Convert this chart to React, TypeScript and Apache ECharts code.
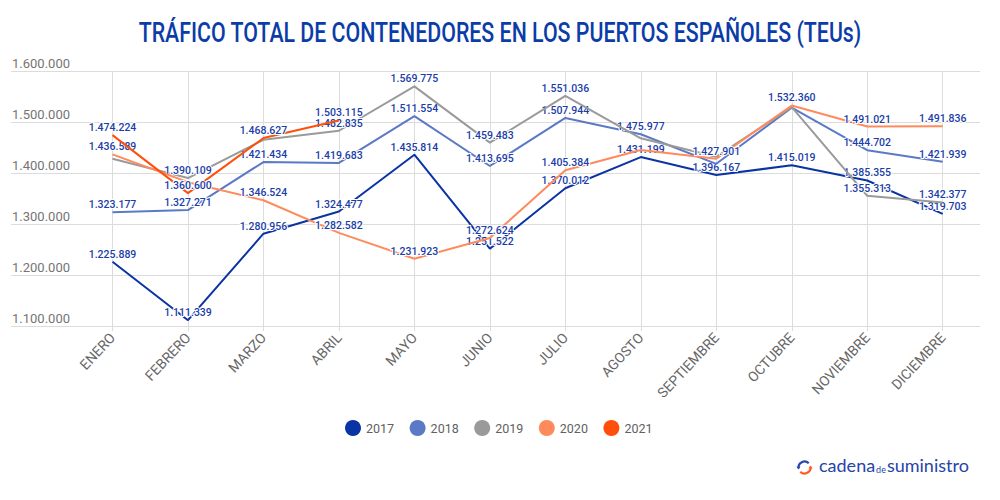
import React, { useEffect, useRef } from "react";
import * as echarts from "echarts";

const months = ["ENERO", "FEBRERO", "MARZO", "ABRIL", "MAYO", "JUNIO", "JULIO", "AGOSTO", "SEPTIEMBRE", "OCTUBRE", "NOVIEMBRE", "DICIEMBRE"];
const years = ["2017", "2018", "2019", "2020", "2021"];
const v2017 = [1225889, 1111339, 1280956, 1324477, 1435814, 1251522, 1370012, 1431199, 1396167, 1415019, 1385355, 1319703];
const v2018 = [1323177, 1327271, 1421434, 1419683, 1511554, 1413695, 1507944, 1475977, 1418000, 1528000, 1444702, 1421939];
const v2019 = [1428000, 1390109, 1465000, 1482835, 1569775, 1459483, 1551036, 1468000, 1432000, 1529000, 1355313, 1342377];
const v2020 = [1436589, 1382000, 1346524, 1282582, 1231923, 1272624, 1405384, 1445000, 1427901, 1532360, 1491021, 1491836];
const v2021 = [1474224, 1360600, 1468627, 1503115];
// indexes of points whose label is not shown (hidden due to overlap in the original)
const hidden2017: number[] = [];
const hidden2018 = [8, 9];
const hidden2019 = [0, 2, 7, 8, 9];
const hidden2020 = [1, 7];
const hidden2021: number[] = [];
const yTicks = [1100000, 1200000, 1300000, 1400000, 1500000, 1600000];

const colors = ["#0a34a3", "#5b79c6", "#9a9a9a", "#ff8a5c", "#ff4f0a"];

function fmt(n: number): string {
  return String(Math.round(n)).replace(/\B(?=(\d{3})+(?!\d))/g, ".");
}

export default function App() {
  const ref = useRef<HTMLDivElement>(null);
  useEffect(() => {
    if (!ref.current) return;
    const chart = echarts.init(ref.current, undefined, { renderer: "svg" });
    const all = [v2017, v2018, v2019, v2020, v2021];
    const hid = [hidden2017, hidden2018, hidden2019, hidden2020, hidden2021];
    const series = all.map((vals, i) => ({
      name: years[i],
      type: "line",
      xAxisIndex: 1,
      yAxisIndex: 1,
      symbol: "circle",
      symbolSize: 0,
      showSymbol: true,
      lineStyle: { width: 2, color: colors[i] },
      itemStyle: { color: colors[i] },
      data: vals.map((v, j) => (hid[i].includes(j) ? { value: v, label: { show: false } } : v)),
      label: {
        show: true,
        position: "top",
        distance: 2,
        color: "#1a3ea8",
        fontFamily: "Roboto",
        fontSize: 10.5,
        fontWeight: 500,
        textBorderColor: "#fff",
        textBorderWidth: 2,
        formatter: (p: any) => fmt(p.value),
      },
      z: 2 + i,
    }));
    chart.setOption({
      animation: false,
      backgroundColor: "#fff",
      color: colors,
      legend: {
        data: years,
        left: 340,
        top: 415,
        icon: "circle",
        itemWidth: 16,
        itemHeight: 16,
        itemGap: 15.5,
        textStyle: { fontFamily: "Roboto", fontSize: 12.5, color: "#616161" },
      },
      grid: [
        { left: 11, right: 20, top: 71, bottom: 174 },
        { left: 112.5, right: 57.3, top: 71, bottom: 174 },
      ],
      xAxis: [
        { type: "value", gridIndex: 0, show: false, min: 0, max: 1 },
        {
          type: "category",
          gridIndex: 1,
          data: months,
          boundaryGap: false,
          axisLine: { show: false },
          axisTick: { show: true, length: 5, lineStyle: { color: "#dcdcdc" } },
          splitLine: { show: true, lineStyle: { color: "#dcdcdc", width: 1 } },
          axisLabel: { rotate: 47, margin: 9, color: "#666", fontFamily: "Roboto", fontSize: 14, interval: 0 },
        },
      ],
      yAxis: [
        {
          type: "value",
          gridIndex: 0,
          min: yTicks[0],
          max: yTicks[yTicks.length - 1],
          interval: 100000,
          axisLine: { show: false },
          axisTick: { show: false },
          splitLine: { lineStyle: { color: "#dcdcdc", width: 1 } },
          axisLabel: {
            inside: true,
            margin: 1,
            verticalAlign: "bottom",
            padding: [0, 0, 1, 0],
            color: "#757575",
            fontFamily: "Roboto",
            fontSize: 13,
            formatter: (v: number) => fmt(v),
          },
        },
        {
          type: "value",
          gridIndex: 1,
          min: yTicks[0],
          max: yTicks[yTicks.length - 1],
          interval: 100000,
          show: false,
          splitLine: { show: false },
        },
      ],
      graphic: [
        {
          type: "text",
          x: 500,
          y: 33,
          scaleX: 0.79,
          style: {
            text: "TRÁFICO TOTAL DE CONTENEDORES EN LOS PUERTOS ESPAÑOLES (TEUs)",
            fontFamily: "Roboto",
            fontSize: 27,
            fontWeight: 500,
            fill: "#0b3ca8",
            textAlign: "center",
            textVerticalAlign: "middle",
          },
        },
        {
          type: "group",
          left: 796,
          top: 459,
          children: [
            { type: "arc", shape: { cx: 7, cy: 8, r: 6, startAngle: Math.PI * 0.95, endAngle: Math.PI * 1.75 }, style: { stroke: "#2a47b0", lineWidth: 2.2, fill: "none" } },
            { type: "arc", shape: { cx: 7, cy: 8, r: 6, startAngle: Math.PI * -0.05, endAngle: Math.PI * 0.75 }, style: { stroke: "#ff5a1f", lineWidth: 2.2, fill: "none" } },
            { type: "polygon", shape: { points: [[-1, 7], [3, 7], [1, 10]] }, style: { fill: "#2a47b0" } },
            { type: "polygon", shape: { points: [[11, 9], [15, 9], [13, 6]] }, style: { fill: "#ff5a1f" } },
          ],
        },
        {
          type: "text",
          left: 819,
          top: 456,
          style: {
            text: "{a|cadena}{b|de}{a|suministro}",
            rich: {
              a: { fontFamily: "Lato", fontSize: 18, fill: "#2544a8", verticalAlign: "bottom" },
              b: { fontFamily: "Lato", fontSize: 9, fill: "#2544a8", verticalAlign: "bottom", padding: [0, 1, 0, 1] },
            },
          },
        },
      ],
      series,
    });
    return () => chart.dispose();
  }, []);
  return <div ref={ref} style={{ position: "fixed", left: 0, top: 0, width: 1000, height: 500 }} />;
}
